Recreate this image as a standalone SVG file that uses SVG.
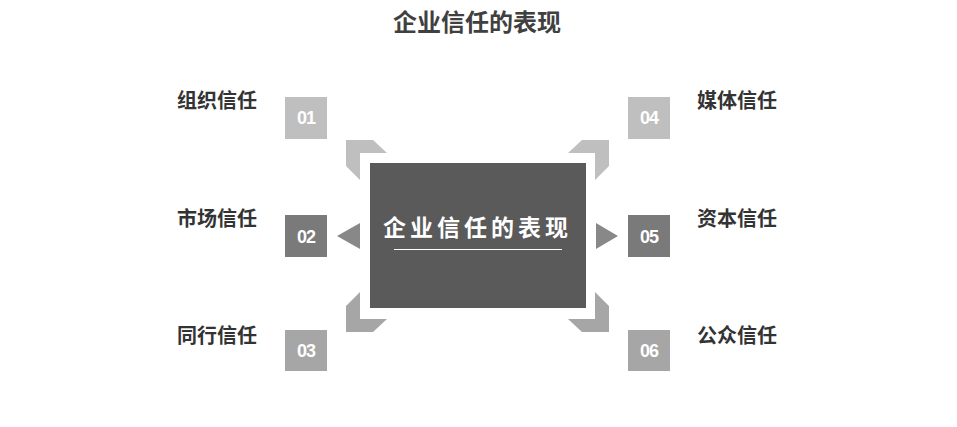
<svg xmlns="http://www.w3.org/2000/svg" width="957" height="427" viewBox="0 0 957 427">
<style>
.title{font-family:"Liberation Sans","Noto Sans CJK SC",sans-serif;font-weight:bold;font-size:24px;fill:#404040;text-anchor:middle}
.lbl{font-family:"Liberation Sans","Noto Sans CJK SC",sans-serif;font-weight:bold;font-size:20px;fill:#333333}
.num{font-family:"Liberation Sans","Noto Sans CJK SC",sans-serif;font-weight:bold;font-size:18px;fill:#ffffff;text-anchor:middle;letter-spacing:-1px}
.ctr{font-family:"Liberation Sans","Noto Sans CJK SC",sans-serif;font-weight:bold;font-size:23px;fill:#ffffff;text-anchor:middle;letter-spacing:4px}
.c1{fill:#bfbfbf}.c2{fill:#7a7a7a}.c3{fill:#a6a6a6}.tri{fill:#888888}
</style>
<rect width="957" height="427" fill="#ffffff"/>
<text class="title" x="477" y="31">企业信任的表现</text>
<g id="center">
<rect x="370" y="163" width="216" height="145" fill="#5a5a5a"/>
<text class="ctr" x="477.5" y="236">企业信任的表现</text>
<line x1="394" y1="249.5" x2="562" y2="249.5" stroke="#ffffff" stroke-width="1"/>
</g>
<g id="connectors">
<polygon class="c1" points="346,140 373,140 387,153 360,153 360,180 346,166"/>
<polygon class="c3" points="346,332 373,332 387,319 360,319 360,292 346,306"/>
<polygon class="c1" points="609,140 582,140 568,153 595,153 595,180 609,166"/>
<polygon class="c3" points="609,332 582,332 568,319 595,319 595,292 609,306"/>
<polygon class="tri" points="337,236 360,223 360,249"/>
<polygon class="tri" points="618,236 596,223 596,249"/>
</g>
<g id="n01"><rect class="c1" x="285" y="97" width="42" height="42"/><text class="num" x="306" y="124">01</text><text class="lbl" x="177" y="108">组织信任</text></g>
<g id="n02"><rect class="c2" x="285" y="215" width="42" height="42"/><text class="num" x="306" y="243">02</text><text class="lbl" x="177" y="226">市场信任</text></g>
<g id="n03"><rect class="c3" x="285" y="330" width="42" height="41"/><text class="num" x="306" y="357">03</text><text class="lbl" x="177" y="343">同行信任</text></g>
<g id="n04"><rect class="c1" x="628" y="97" width="42" height="42"/><text class="num" x="649" y="124">04</text><text class="lbl" x="697" y="108">媒体信任</text></g>
<g id="n05"><rect class="c2" x="628" y="215" width="42" height="42"/><text class="num" x="649" y="243">05</text><text class="lbl" x="697" y="226">资本信任</text></g>
<g id="n06"><rect class="c3" x="628" y="330" width="42" height="41"/><text class="num" x="649" y="357">06</text><text class="lbl" x="697" y="343">公众信任</text></g>
</svg>
